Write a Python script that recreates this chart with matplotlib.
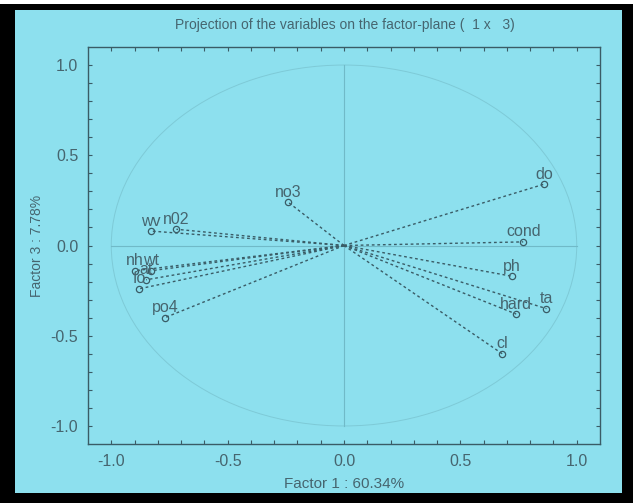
import numpy as np
import matplotlib
matplotlib.use("Agg")
import matplotlib.pyplot as plt
from matplotlib.patches import Rectangle, Circle

# variable loadings on factor 1 and factor 3
names = ["do", "cond", "ph", "hard", "ta", "cl", "no3", "wv", "n02",
         "nh", "wt", "at", "fo", "po4"]
f1 = [0.86, 0.77, 0.72, 0.74, 0.87, 0.68, -0.24, -0.83, -0.72,
      -0.90, -0.83, -0.85, -0.88, -0.77]
f3 = [0.34, 0.02, -0.17, -0.38, -0.35, -0.60, 0.24, 0.08, 0.09,
      -0.14, -0.14, -0.19, -0.24, -0.40]

ticks = [-1.0, -0.5, 0.0, 0.5, 1.0]
tick_labels = ["-1.0", "-0.5", "0.0", "0.5", "1.0"]

bg = "#8de0ee"
txt = "#46656f"
dark = "#3a5c66"

plt.rcParams['font.family'] = ['Liberation Sans', 'DejaVu Sans']

fig = plt.figure(figsize=(6.33, 5.03), dpi=100)
fig.patch.set_facecolor("white")
W, H = 633, 503
# black frame and cyan panel
fig.patches.append(Rectangle((0, 0), 1, 1 - 4 / H, transform=fig.transFigure,
                             facecolor="black", edgecolor="none", zorder=-10))
fig.patches.append(Rectangle((15 / W, 10 / H), (622 - 15) / W, (488 - 5) / H,
                             transform=fig.transFigure, facecolor=bg,
                             edgecolor="none", zorder=-9))

ax = fig.add_axes([88 / W, 1 - 444 / H, (600 - 88) / W, (444 - 47) / H])
ax.set_facecolor("none")
ax.set_xlim(-1.1, 1.1)
ax.set_ylim(-1.1, 1.1)

# unit circle and centre lines
ax.add_patch(Circle((0, 0), 1.0, fill=False, edgecolor="#7ecad7", lw=0.7))
ax.plot([-1, 1], [0, 0], color="#70bac8", lw=0.8)
ax.plot([0, 0], [-1, 1], color="#70bac8", lw=0.8)

for n, x, y in zip(names, f1, f3):
    ax.plot([0, x], [0, y], color=dark, lw=1.0, dashes=(2, 2))
    ax.plot(x, y, marker="o", ms=4.5, mfc="none", mec=dark, mew=0.9)
    ax.annotate(n, (x, y), xytext=(0, 4), textcoords="offset points",
                ha="center", va="baseline", fontsize=11.5, color=txt)

ax.set_xticks(ticks)
ax.set_xticklabels(tick_labels)
ax.set_yticks(ticks)
ax.set_yticklabels(tick_labels)
ax.set_xticks(np.arange(-1.0, 1.01, 0.1), minor=True)
ax.set_yticks(np.arange(-1.0, 1.01, 0.1), minor=True)
ax.tick_params(which="both", direction="in", top=True, right=True,
               length=3, width=0.8, color=dark, labelcolor=txt,
               labelsize=11.5, pad=7)
for s in ax.spines.values():
    s.set_color(dark)
    s.set_linewidth(1.0)

ax.set_xlabel("Factor 1 : 60.34%", fontsize=11, color=txt, labelpad=6)
ax.set_ylabel("Factor 3 : 7.78%", fontsize=10, color=txt, labelpad=5)
fig.text(345 / W, 1 - 25 / H, "Projection of the variables on the factor-plane (  1 x   3)",
         ha="center", va="center", fontsize=10, color=txt)

fig.savefig("out.png", dpi=100)
